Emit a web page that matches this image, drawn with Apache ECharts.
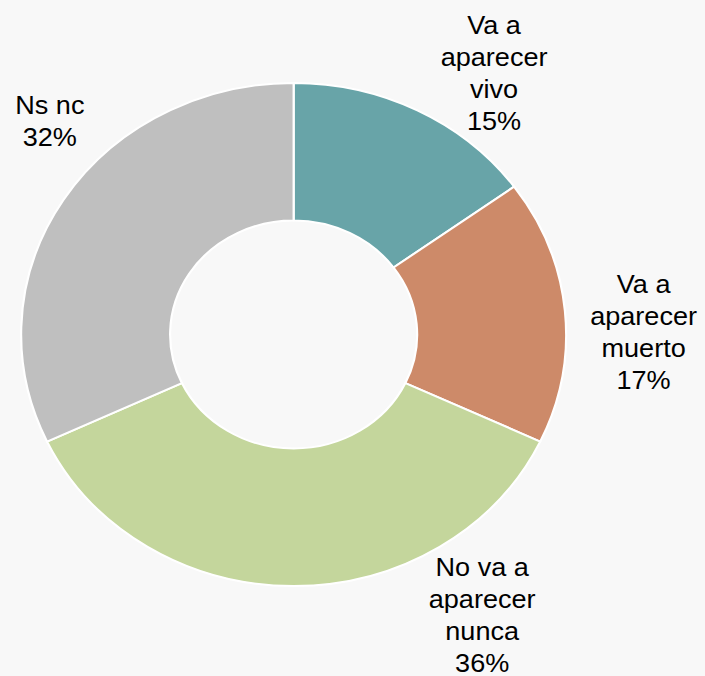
<!DOCTYPE html>
<html>
<head>
<meta charset="utf-8">
<script src="https://cdn.jsdelivr.net/npm/echarts@6/dist/echarts.min.js"></script>
<style>
  html, body { margin: 0; padding: 0; background: #f8f8f8; overflow: hidden; }
  #c { width: 651px; height: 676px; transform: scaleX(1.0835); transform-origin: 0 0; }
</style>
</head>
<body>
<div id="c"></div>
<script>
// Data
const categories = ['Va a aparecer vivo', 'Va a aparecer muerto', 'No va a aparecer nunca', 'Ns nc'];
const labelLines = [
  ['Va a', 'aparecer', 'vivo'],
  ['Va a', 'aparecer', 'muerto'],
  ['No va a', 'aparecer', 'nunca'],
  ['Ns nc']
];
const values = [15, 17, 36, 32];

// Styling / layout (kept separate from data)
const colors = ['#68a4a8', '#cd8a69', '#c4d69c', '#bfbfbf'];
const labelCenters = [[456, 73], [594, 332], [445, 615], [46, 121]];

const chart = echarts.init(document.getElementById('c'), null, { renderer: 'svg' });
chart.setOption({
  backgroundColor: '#f8f8f8',
  animation: false,
  series: [{
    type: 'pie',
    center: [271, 334.5],
    radius: [114, 251.5],
    startAngle: 90,
    clockwise: true,
    avoidLabelOverlap: false,
    data: categories.map((c, i) => ({
      name: c,
      value: values[i],
      itemStyle: { color: colors[i] }
    })),
    itemStyle: { borderColor: '#ffffff', borderWidth: 2 },
    label: {
      show: true,
      position: 'outside',
      fontFamily: '"Liberation Sans", Arial, sans-serif',
      fontSize: 25,
      lineHeight: 32,
      color: '#000000',
      align: 'center',
      formatter: p => labelLines[p.dataIndex].concat([p.value + '%']).join('\n')
    },
    labelLine: { show: false },
    labelLayout: p => ({
      x: labelCenters[p.dataIndex][0],
      y: labelCenters[p.dataIndex][1],
      align: 'center',
      verticalAlign: 'middle'
    }),
    emphasis: { disabled: true }
  }]
});
</script>
</body>
</html>
